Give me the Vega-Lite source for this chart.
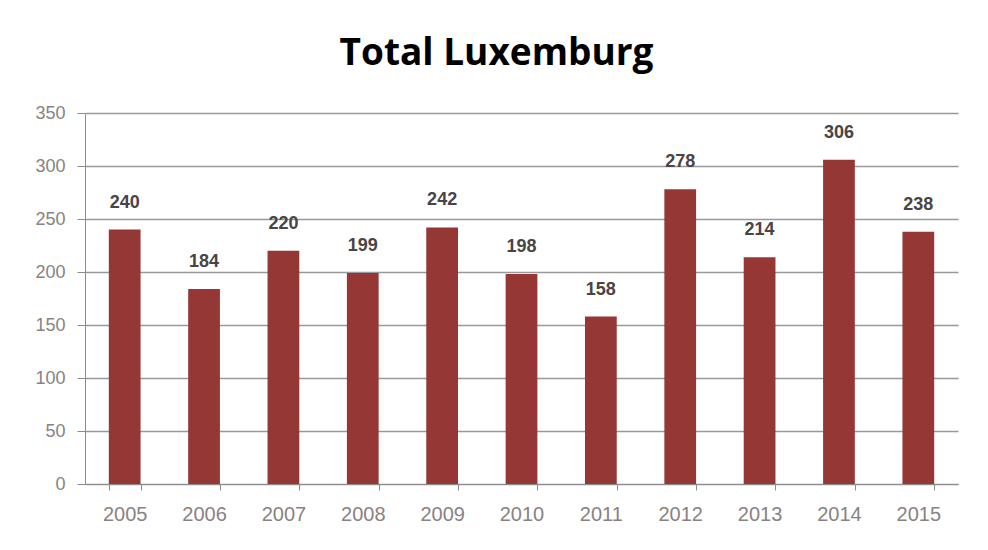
{
  "$schema": "https://vega.github.io/schema/vega-lite/v6.json",
  "width": 873,
  "height": 371,
  "autosize": {"type": "none"},
  "padding": {"left": 85, "top": 113, "right": 30, "bottom": 66},
  "background": "white",
  "title": {
    "text": "Total Luxemburg",
    "font": "Open Sans",
    "fontSize": 37,
    "fontWeight": "bold",
    "color": "#000000",
    "anchor": "middle",
    "frame": "bounds",
    "offset": 31
  },
  "data": {
    "values": [
      {"year": "2005", "value": 240},
      {"year": "2006", "value": 184},
      {"year": "2007", "value": 220},
      {"year": "2008", "value": 199},
      {"year": "2009", "value": 242},
      {"year": "2010", "value": 198},
      {"year": "2011", "value": 158},
      {"year": "2012", "value": 278},
      {"year": "2013", "value": 214},
      {"year": "2014", "value": 306},
      {"year": "2015", "value": 238}
    ]
  },
  "encoding": {
    "x": {
      "field": "year",
      "type": "ordinal",
      "scale": {"paddingInner": 0.6, "paddingOuter": 0.3},
      "axis": {
        "title": null,
        "labelAngle": 0,
        "labelFontSize": 20,
        "labelColor": "#8a8282",
        "labelFont": "Liberation Sans",
        "labelPadding": 14,
        "domainColor": "#8c8c8c",
        "tickColor": "#8c8c8c",
        "tickBand": "extent",
        "tickSize": 6,
        "grid": false
      }
    },
    "y": {
      "field": "value",
      "type": "quantitative",
      "scale": {"domain": [0, 350]},
      "axis": {
        "title": null,
        "values": [0, 50, 100, 150, 200, 250, 300, 350],
        "labelFontSize": 18,
        "labelColor": "#8a8282",
        "labelFont": "Liberation Sans",
        "labelPadding": 12,
        "domainColor": "#8c8c8c",
        "tickColor": "#8c8c8c",
        "tickSize": 8,
        "gridColor": "#999999",
        "gridWidth": 1.5
      }
    }
  },
  "layer": [
    {"mark": {"type": "bar", "color": "#953735"}},
    {
      "mark": {
        "type": "text",
        "dy": -27,
        "fontSize": 18,
        "fontWeight": "bold",
        "font": "Liberation Sans",
        "color": "#4a4444"
      },
      "encoding": {"text": {"field": "value", "type": "quantitative"}}
    }
  ],
  "config": {
    "view": {"stroke": null}
  }
}
